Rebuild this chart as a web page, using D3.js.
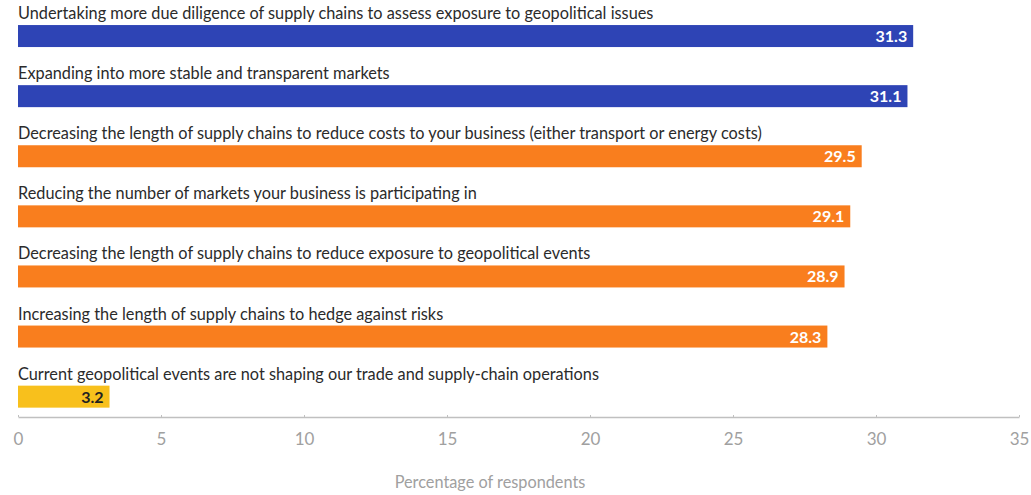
<!DOCTYPE html>
<html>
<head>
<meta charset="utf-8">
<script src="https://cdn.jsdelivr.net/npm/d3@7"></script>
<style>
  body { margin: 0; background: #fff; }
  svg { font-family: Lato, "Open Sans", sans-serif; }
</style>
</head>
<body>
<div id="chart"></div>
<script>
const labels = [
  'Undertaking more due diligence of supply chains to assess exposure to geopolitical issues',
  'Expanding into more stable and transparent markets',
  'Decreasing the length of supply chains to reduce costs to your business (either transport or energy costs)',
  'Reducing the number of markets your business is participating in',
  'Decreasing the length of supply chains to reduce exposure to geopolitical events',
  'Increasing the length of supply chains to hedge against risks',
  'Current geopolitical events are not shaping our trade and supply-chain operations'
];
const values = [31.3, 31.1, 29.5, 29.1, 28.9, 28.3, 3.2];
const groups = ['blue', 'blue', 'orange', 'orange', 'orange', 'orange', 'yellow'];
const xTicks = [0, 5, 10, 15, 20, 25, 30, 35];

const width = 1031, height = 495;
const margin = { left: 18, right: 12 };
const colors = { blue: '#2e44b5', orange: '#f97e1e', yellow: '#f8c01c' };

const svg = d3.select('#chart').append('svg')
  .attr('width', width)
  .attr('height', height);

const x = d3.scaleLinear().domain([0, 35]).range([margin.left, width - margin.right]);
// step ~60px, bar ~22px
const y = d3.scaleBand().domain(d3.range(values.length))
  .range([6, 6 + 60.1 * values.length])
  .paddingInner(0.634).paddingOuter(0.317);

const rows = svg.append('g').selectAll('g').data(values).enter().append('g');

rows.append('rect')
  .attr('x', x(0))
  .attr('y', (d, i) => y(i))
  .attr('width', d => x(d) - x(0))
  .attr('height', y.bandwidth())
  .attr('fill', (d, i) => colors[groups[i]]);

rows.append('text')
  .attr('x', x(0))
  .attr('y', (d, i) => y(i) - 6)
  .attr('font-size', 16.3)
  .attr('fill', '#2b2b2b')
  .text((d, i) => labels[i]);

rows.append('text')
  .attr('x', d => x(d) - 6)
  .attr('y', (d, i) => y(i) + 17)
  .attr('text-anchor', 'end')
  .attr('font-size', 16)
  .attr('font-weight', 'bold')
  .attr('fill', (d, i) => groups[i] === 'yellow' ? '#222' : '#fff')
  .text(d => d.toFixed(1));

// axis
const axisY = 417;
const axis = svg.append('g')
  .attr('transform', `translate(0,${axisY})`)
  .call(d3.axisBottom(x).tickValues(xTicks).tickSize(0).tickPadding(16));
axis.select('.domain').attr('stroke', '#c0c0c0').attr('stroke-width', 1.5);
axis.selectAll('.tick line').attr('stroke', '#c0c0c0').attr('y1', -2).attr('y2', 0);
axis.selectAll('.tick text')
  .attr('fill', '#a0a0a0')
  .attr('font-size', 17)
  .attr('font-family', 'Lato, "Open Sans", sans-serif');

svg.append('text')
  .attr('x', 490)
  .attr('y', 488)
  .attr('text-anchor', 'middle')
  .attr('font-size', 16.3)
  .attr('fill', '#a0a0a0')
  .text('Percentage of respondents');
</script>
</body>
</html>
